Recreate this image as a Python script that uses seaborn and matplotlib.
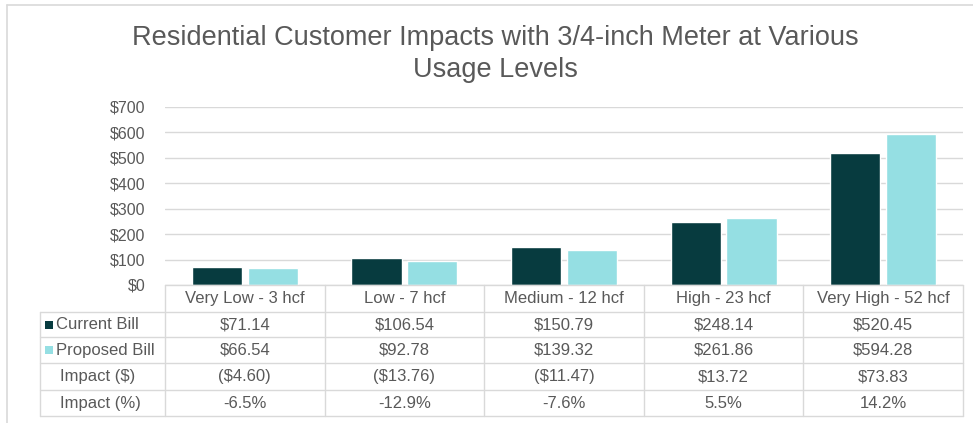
import pandas as pd
import matplotlib
matplotlib.use("Agg")
import matplotlib.pyplot as plt
import matplotlib.transforms as mtransforms
from matplotlib.lines import Line2D
from matplotlib.patches import Rectangle
import seaborn as sns

# chart data
levels = ["Very Low - 3 hcf", "Low - 7 hcf", "Medium - 12 hcf", "High - 23 hcf", "Very High - 52 hcf"]
current_bill = [71.14, 106.54, 150.79, 248.14, 520.45]
proposed_bill = [66.54, 92.78, 139.32, 261.86, 594.28]
impact_dollar = ["($4.60)", "($13.76)", "($11.47)", "$13.72", "$73.83"]
impact_pct = ["-6.5%", "-12.9%", "-7.6%", "5.5%", "14.2%"]
series_names = ["Current Bill", "Proposed Bill"]
y_ticks = [0, 100, 200, 300, 400, 500, 600, 700]

DARK = "#073B3F"
LIGHT = "#95DFE3"
GRID = "#D9D9D9"
TEXT = "#595959"

sns.set_style("white")
plt.rcParams["font.family"] = ["Liberation Sans", "DejaVu Sans"]

df = pd.DataFrame({
    "level": levels * 2,
    "bill": current_bill + proposed_bill,
    "series": [series_names[0]] * len(levels) + [series_names[1]] * len(levels),
})

W, H = 973, 423
fig = plt.figure(figsize=(W / 100, H / 100), dpi=100)
ax = fig.add_axes([165 / W, 1 - 285 / H, (963 - 165) / W, (285 - 107) / H])

sns.barplot(data=df, x="level", y="bill", hue="series", order=levels,
            palette=[DARK, LIGHT], width=0.7, gap=0.1, saturation=1,
            legend=False, ax=ax)

ax.set_xlim(-0.5, len(levels) - 0.5)
ax.set_ylim(0, 700)
ax.set_yticks(y_ticks)
ax.set_yticklabels([f"${v}" for v in y_ticks], color=TEXT, fontsize=11.5)
ax.tick_params(axis="y", length=0, pad=14)
ax.set_xticks([])
ax.set_xlabel("")
ax.set_ylabel("")
ax.yaxis.grid(True, color=GRID, linewidth=1)
ax.set_axisbelow(True)
sns.despine(ax=ax, left=True, bottom=True)

fig.text(0.509, 1 - 38 / H, "Residential Customer Impacts with 3/4-inch Meter at Various",
         ha="center", va="center", fontsize=19.5, color=TEXT)
fig.text(0.509, 1 - 70 / H, "Usage Levels", ha="center", va="center", fontsize=19.5, color=TEXT)

# data table under the axis
tr = mtransforms.blended_transform_factory(ax.transData, fig.transFigure)
def fy(px):
    return 1 - px / H

rows_y = [285, 312, 337, 363, 390, 416]
x_left = 40 / W
x_right = 963 / W
x_cat = 165 / W

# horizontal lines
fig.add_artist(Line2D([x_cat, x_right], [fy(285), fy(285)], color=GRID, lw=1))
for y in rows_y[1:]:
    fig.add_artist(Line2D([x_left, x_right], [fy(y), fy(y)], color=GRID, lw=1))
# vertical lines
fig.add_artist(Line2D([x_left, x_left], [fy(312), fy(416)], color=GRID, lw=1))
for i in range(len(levels) + 1):
    ax.add_artist(Line2D([i - 0.5, i - 0.5], [fy(285), fy(416)], color=GRID, lw=1,
                         transform=tr, clip_on=False))

table_rows = [
    [f"${v:,.2f}" for v in current_bill],
    [f"${v:,.2f}" for v in proposed_bill],
    impact_dollar,
    impact_pct,
]
row_labels = series_names + ["Impact ($)", "Impact (%)"]

for i, lab in enumerate(levels):
    ax.text(i, fy(298.5), lab, transform=tr, ha="center", va="center",
            fontsize=12, color=TEXT, clip_on=False)

for r, (label, vals) in enumerate(zip(row_labels, table_rows)):
    yc = fy((rows_y[r + 1] + rows_y[r + 2]) / 2)
    if r < 2:
        fig.add_artist(Rectangle((45 / W, yc - 4 / H), 8 / W, 8 / H,
                                 color=[DARK, LIGHT][r], lw=0))
        fig.text(56 / W, yc, label, ha="left", va="center", fontsize=12, color=TEXT)
    else:
        fig.text(60 / W, yc, label, ha="left", va="center", fontsize=12, color=TEXT)
    for i, v in enumerate(vals):
        ax.text(i, yc, v, transform=tr, ha="center", va="center",
                fontsize=12, color=TEXT, clip_on=False)

# outer frame of the chart area
fig.add_artist(Line2D([7 / W, 1], [fy(5.5), fy(5.5)], color=GRID, lw=1.2))
fig.add_artist(Line2D([7 / W, 7 / W], [fy(5.5), 0], color=GRID, lw=1.2))

fig.savefig("out.png", dpi=100, facecolor="white")
